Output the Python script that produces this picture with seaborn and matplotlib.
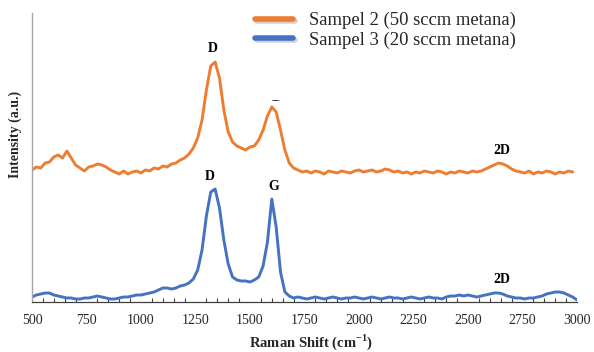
import numpy as np
import matplotlib
matplotlib.use("Agg")
import matplotlib.pyplot as plt
import matplotlib.patheffects as pe
from matplotlib.ticker import MultipleLocator
import seaborn as sns

# Raman spectra (arbitrary intensity units, stacked)
shift_s2 = np.arange(500, 2981, 20)
shift_s3 = np.arange(500, 3001, 20)

sampel2 = [132, 135, 134, 139, 140, 145, 147, 144, 151, 144,
           137, 134, 131, 135, 136, 138, 137, 135, 132, 130,
           128, 131, 128, 130, 131, 129, 132, 131, 134, 133,
           136, 135, 138, 139, 142, 144, 148, 154, 164, 182,
           212, 236, 240, 224, 192, 170, 160, 156, 154, 152,
           155, 156, 162, 172, 186, 195, 190, 172, 152, 139,
           134, 132, 130, 131, 129, 131, 130, 128, 131, 130,
           129, 131, 130, 129, 131, 132, 130, 131, 132, 130,
           131, 133, 132, 130, 131, 129, 130, 128, 130, 129,
           131, 130, 129, 131, 130, 128, 130, 129, 131, 130,
           129, 131, 130, 131, 133, 135, 137, 139, 138, 136,
           133, 131, 130, 129, 131, 128, 130, 129, 131, 130,
           128, 130, 129, 131, 130]

sampel3 = [5, 7, 8, 9, 9, 7, 6, 5, 4, 4,
           3, 3, 4, 4, 5, 6, 5, 4, 3, 3,
           4, 5, 5, 6, 7, 7, 8, 9, 10, 12,
           14, 14, 13, 14, 16, 17, 19, 23, 32, 52,
           86, 110, 113, 94, 62, 38, 25, 22, 21, 21,
           20, 22, 25, 36, 60, 103, 75, 30, 10, 6,
           4, 5, 4, 3, 4, 5, 4, 3, 4, 5,
           4, 3, 4, 4, 5, 4, 3, 4, 5, 4,
           3, 4, 5, 4, 4, 3, 4, 5, 4, 3,
           4, 5, 4, 4, 3, 5, 6, 6, 7, 6,
           7, 6, 5, 6, 7, 8, 9, 9, 8, 6,
           5, 4, 4, 3, 4, 4, 5, 6, 8, 9,
           10, 10, 9, 7, 5, 2]

peak_labels = ["D", "\u2013\u2013", "2D", "D", "G", "2D"]
peak_x = [1330, 1615, 2657, 1317, 1610, 2657]
peak_y = [247, 198, 145, 119, 109, 16]
peak_size = [10, 6, 10, 10, 10, 10]

legend_labels = ["Sampel 2 (50 sccm metana)", "Sampel 3 (20 sccm metana)"]
orange = "#ED7D31"
blue = "#4472C4"

sns.set_style("white")
plt.rcParams["font.family"] = ["Liberation Serif", "DejaVu Serif"]
plt.rcParams["mathtext.fontset"] = "custom"
plt.rcParams["mathtext.rm"] = "Liberation Serif"
plt.rcParams["mathtext.bf"] = "Liberation Serif:bold"

fig = plt.figure(figsize=(5.94, 3.52), dpi=100)
ax = fig.add_axes([32 / 594, 1 - 302 / 352, 545 / 594, 289 / 352])

sns.lineplot(x=shift_s2, y=sampel2, color=orange, lw=2.1, ax=ax,
             label=legend_labels[0])
sns.lineplot(x=shift_s3, y=sampel3, color=blue, lw=2.1, ax=ax,
             label=legend_labels[1])

for lab, px, py, fs in zip(peak_labels, peak_x, peak_y, peak_size):
    ax.text(px, py, lab, ha="center", va="bottom", fontsize=fs,
            fontweight="bold", color="black")

ax.set_xlim(500, 3000)
ax.set_ylim(0, 289)
ax.xaxis.set_major_locator(MultipleLocator(250))
ax.xaxis.set_minor_locator(MultipleLocator(50))
ax.set_yticks([])
ax.tick_params(axis="x", which="major", direction="inout", length=6,
               width=0.8, color="#404040", labelsize=10, pad=6)
ax.tick_params(axis="x", which="minor", direction="in", length=3,
               width=0.8, color="#404040", bottom=True)

for side in ["top", "right"]:
    ax.spines[side].set_visible(False)
ax.spines["left"].set_color("#A6A6A6")
ax.spines["bottom"].set_color("#404040")
ax.spines["left"].set_linewidth(1.0)
ax.spines["bottom"].set_linewidth(0.9)

ax.set_xlabel("Raman Shift (cm$^{\\mathbf{-1}}$)", fontsize=10.5,
              fontweight="bold")
ax.xaxis.set_label_coords((311 - 32) / 545, -(332 - 302) / 289)
ax.set_ylabel("Intensity (a.u.)", fontsize=10, fontweight="bold")
ax.yaxis.set_label_coords((22 - 32) / 545, (302 - 134) / 289)

leg = ax.legend(loc="upper left", bbox_to_anchor=(255 / 594, 1 - 12 / 352),
                bbox_transform=fig.transFigure, frameon=False,
                fontsize=13.4, handlelength=2.05, handletextpad=0.85,
                labelspacing=0.12, borderpad=0, borderaxespad=0)
for line in leg.get_lines():
    line.set_linewidth(4)
    line.set_path_effects([pe.SimpleLineShadow(offset=(1.5, -1.5),
                                               shadow_color="gray", alpha=0.35),
                           pe.Normal()])

fig.savefig("out.png", dpi=100)
